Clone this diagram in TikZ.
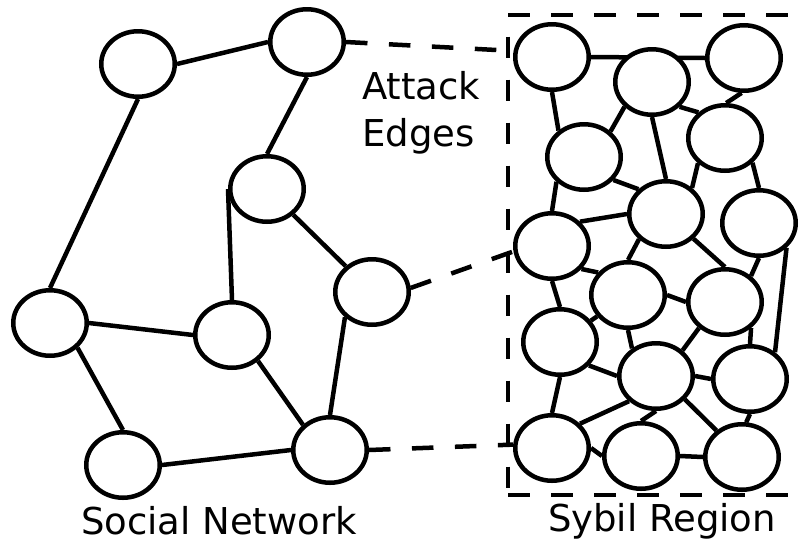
\documentclass[tikz,border=0pt]{standalone}
\usepackage{fontspec}
\setmainfont{DejaVu Sans}
\usetikzlibrary{shapes.geometric,backgrounds}
\begin{document}
\begin{tikzpicture}[x=1pt,y=-1pt,
  vtx/.style={ellipse,draw,fill=white,line width=4.5pt,minimum width=73.5pt,minimum height=65.5pt,inner sep=0pt},
  link/.style={line width=4.5pt},
  attack/.style={line width=4.5pt,dash pattern=on 21.5pt off 21.5pt},
  lbl/.style={font=\fontsize{37}{44}\selectfont,inner sep=0pt}]
\useasboundingbox (0,0) rectangle (809,542);
\clip (0,0) rectangle (809,542);
% social network
\node[vtx] (L1) at (138,64) {};
\node[vtx] (L2) at (307,42) {};
\node[vtx] (L3) at (267,189) {};
\node[vtx] (L4) at (50,323) {};
\node[vtx] (L5) at (232,335) {};
\node[vtx] (L6) at (372,292) {};
\node[vtx] (L7) at (123,465) {};
\node[vtx] (L8) at (330,450) {};
% sybil region
\node[vtx] (S1) at (552,57) {};
\node[vtx] (S2) at (652,82) {};
\node[vtx] (S3) at (744,58) {};
\node[vtx] (S4) at (584,157) {};
\node[vtx] (S5) at (725,138) {};
\node[vtx] (S6) at (666,214) {};
\node[vtx] (S7) at (759,223) {};
\node[vtx] (S8) at (552,246) {};
\node[vtx] (S9) at (628,295) {};
\node[vtx] (S10) at (725,302) {};
\node[vtx] (S11) at (560,342) {};
\node[vtx] (S12) at (656,376) {};
\node[vtx] (S13) at (750,379) {};
\node[vtx] (S14) at (552,448) {};
\node[vtx] (S15) at (641,456) {};
\node[vtx] (S16) at (742,457) {};
\begin{scope}[on background layer]
% left edges
\draw[link] (L1.east) -- (L2.west);
\draw[link] (L1.south) -- (L4.north);
\draw[link] (L2.south) -- (L3.north);
\draw[link] (L3.west) -- (L5.north);
\draw[link] (L3) -- (L6);
\draw[link] (L4.east) -- (L5.west);
\draw[link] (L4.-42) -- (L7.north);
\draw[link] (L5.-45) -- (L8.137);
\draw[link] (L6.223) -- (L8.north);
\draw[link] (L7.east) -- (L8.west);
% attack edges
\draw[attack] (L2.east) -- (S1.171);
\draw[attack] (L6.6) -- (S8.188);
\draw[attack] (L8.east) -- (S14.175);
% right edges
\draw[link] (S1.east) -- (S3.west);
\draw[link] (S1.south) -- (S4.134);
\draw[link] (S2.222) -- (S4.44);
\draw[link] (S2.south) -- (S6.north);
\draw[link] (S2.-42) -- (S5.136);
\draw[link] (S3.266) -- (S5.88);
\draw[link] (S4.-38) -- (S6.138);
\draw[link] (S4.222) -- (S8.north);
\draw[link] (S5.223) -- (S6.45);
\draw[link] (S5.-42) -- (S7.north);
\draw[link] (S8.41) -- (S6.west);
\draw[link] (S6.223) -- (S9.north);
\draw[link] (S6.-42) -- (S10.north);
\draw[link] (S7.south) -- (S10.45);
\draw[link] (S7.-42) -- (S13.47);
\draw[link] (S8.-38) -- (S9.143);
\draw[link] (S8.south) -- (S11.north);
\draw[link] (S9) -- (S11);
\draw[link] (S9.east) -- (S10.west);
\draw[link] (S9.south) -- (S12.131);
\draw[link] (S10.225) -- (S12.44);
\draw[link] (S10.-45) -- (S13.north);
\draw[link] (S11.-39) -- (S12.west);
\draw[link] (S11.south) -- (S14.north);
\draw[link] (S12.east) -- (S13.west);
\draw[link] (S12.223) -- (S14.41);
\draw[link] (S12.south) -- (S15.north);
\draw[link] (S12.-39) -- (S16.134);
\draw[link] (S13.south) -- (S16.83);
\draw[link] (S14.east) -- (S15.west);
\draw[link] (S15.east) -- (S16.west);
\end{scope}
% dashed region box
\coordinate (boxTL) at (508,15);
\coordinate (boxBL) at (508,495);
\coordinate (boxTR) at (830,15);
\coordinate (boxBR) at (830,495);
\draw[attack] (boxTL) -- (boxTR);
\draw[attack,dash phase=21.5pt] (boxTL) -- (boxBL);
\draw[attack] (boxBL) -- (boxBR);
% labels
\node[lbl,anchor=base west] (atk1) at (362,99) {Attack};
\node[lbl,anchor=base west] (atk2) at (362,146) {Edges};
\node[lbl,anchor=base] (sn) at (219,534) {Social Network};
\node[lbl,anchor=base] (sr) at (662,531) {Sybil Region};
\end{tikzpicture}
\end{document}
